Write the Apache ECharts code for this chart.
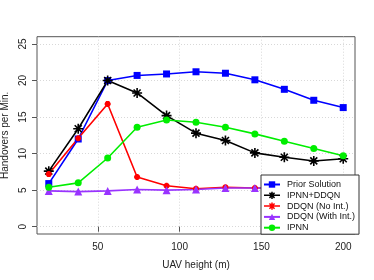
<!DOCTYPE html>
<html>
<head>
<meta charset="utf-8">
<script src="https://cdn.jsdelivr.net/npm/echarts@6/dist/echarts.min.js"></script>
<style>html,body{margin:0;padding:0;background:#fff}#c{width:374px;height:280px}</style>
</head>
<body>
<div id="c"></div>
<script>
var heights = [20, 38, 56, 74, 92, 110, 128, 146, 164, 182, 200];
var xTicks = [50, 100, 150, 200];
var yTicks = [0, 5, 10, 15, 20, 25];
var priorSolution = [5.9, 12.0, 20.0, 20.7, 20.9, 21.2, 21.0, 20.1, 18.8, 17.3, 16.3];
var ipnnDdqn = [7.6, 13.4, 20.0, 18.3, 15.2, 12.8, 11.8, 10.1, 9.5, 9.0, 9.3];
var ddqnNoInt = [7.2, 12.1, 16.8, 6.8, 5.6, 5.2, 5.4, 5.3, 5.3, 5.3, 5.3];
var ddqnWithInt = [4.9, 4.8, 4.9, 5.1, 5.0, 5.1, 5.3, 5.3, 5.3, 5.3, 5.3];
var ipnn = [5.4, 6.0, 9.4, 13.6, 14.6, 14.3, 13.6, 12.7, 11.7, 10.7, 9.7];

function pts(arr){ return heights.map(function(h,i){ return [h, arr[i]]; }); }
var star = 'path://M0 10L20 10M10 0L10 20M3 3L17 17M17 3L3 17';
var starLegend = 'path://M0 10L40 10M20 1L20 19M11 10L29 10M13.6 3.6L26.4 16.4M26.4 3.6L13.6 16.4';
var FONT = 'Liberation Sans';

var chart = echarts.init(document.getElementById('c'), null, {renderer:'canvas'});
function ser(name, data, color, symbol, size, extra){
  var s = {
    name: name, type: 'line', data: pts(data), symbol: symbol, symbolSize: size,
    lineStyle: {color: color, width: 1.6},
    itemStyle: {color: color},
    emphasis: {disabled: true}, animation: false
  };
  if (extra) s.itemStyle = extra;
  return s;
}
chart.setOption({
  animation: false,
  backgroundColor: '#fff',
  textStyle: {fontFamily: FONT},
  grid: {left: 37, right: 19, top: 36.7, bottom: 46, show: true, borderColor: '#555', borderWidth: 1, backgroundColor: 'transparent', containLabel: false, outerBoundsMode: 'none'},
  xAxis: {
    type: 'value', min: 12.8, max: 207.2,
    name: 'UAV height (m)', nameLocation: 'middle', nameGap: 26,
    nameTextStyle: {fontSize: 10, color: '#222', fontFamily: FONT},
    axisLine: {show: false},
    axisTick: {show: true, customValues: xTicks, length: 5, lineStyle: {color: '#555'}},
    axisLabel: {customValues: xTicks, fontSize: 10, color: '#222', margin: 8, fontFamily: FONT},
    splitLine: {show: true, lineStyle: {color: '#d8d8d8', type: [1, 2], width: 1}}
  },
  yAxis: {
    type: 'value', min: -1, max: 26,
    name: 'Handovers per Min.', nameLocation: 'middle', nameGap: 19, nameRotate: 90,
    nameTextStyle: {fontSize: 10, color: '#222', fontFamily: FONT},
    axisLine: {show: false},
    axisTick: {show: true, customValues: yTicks, length: 5, lineStyle: {color: '#555'}},
    axisLabel: {customValues: yTicks, fontSize: 10, color: '#222', rotate: 90, margin: 14, fontFamily: FONT, align: 'center', verticalAlign: 'middle'},
    splitLine: {show: true, lineStyle: {color: '#d8d8d8', type: [1, 2], width: 1}}
  },
  legend: {
    orient: 'vertical', left: 261, top: 175, width: 90,
    backgroundColor: '#fff', borderColor: '#333', borderWidth: 1, borderRadius: 0,
    padding: [5, 4, 2, 2], itemWidth: 16, itemHeight: 8, itemGap: 1.8,
    textStyle: {fontSize: 9, color: '#111', fontFamily: FONT, padding: [0, 0, 0, 2]},
    data: [
      {name: 'Prior Solution'},
      {name: 'IPNN+DDQN', icon: starLegend, itemStyle: {color: '#000', borderColor: '#000', borderWidth: 1.5}},
      {name: 'DDQN (No Int.)', icon: starLegend, itemStyle: {color: '#f00', borderColor: '#f00', borderWidth: 1.5}},
      {name: 'DDQN (With Int.)'},
      {name: 'IPNN'}
    ]
  },
  series: [
    ser('Prior Solution', priorSolution, '#0000ff', 'rect', 7),
    ser('IPNN+DDQN', ipnnDdqn, '#000000', star, 10, {color: '#000', borderColor: '#000', borderWidth: 1.6}),
    ser('DDQN (No Int.)', ddqnNoInt, '#ff0000', star, 6, {color: '#ff0000', borderColor: '#ff0000', borderWidth: 2}),
    ser('DDQN (With Int.)', ddqnWithInt, '#9933ff', 'triangle', 8),
    ser('IPNN', ipnn, '#00ee00', 'circle', 7)
  ]
});
</script>
</body>
</html>
